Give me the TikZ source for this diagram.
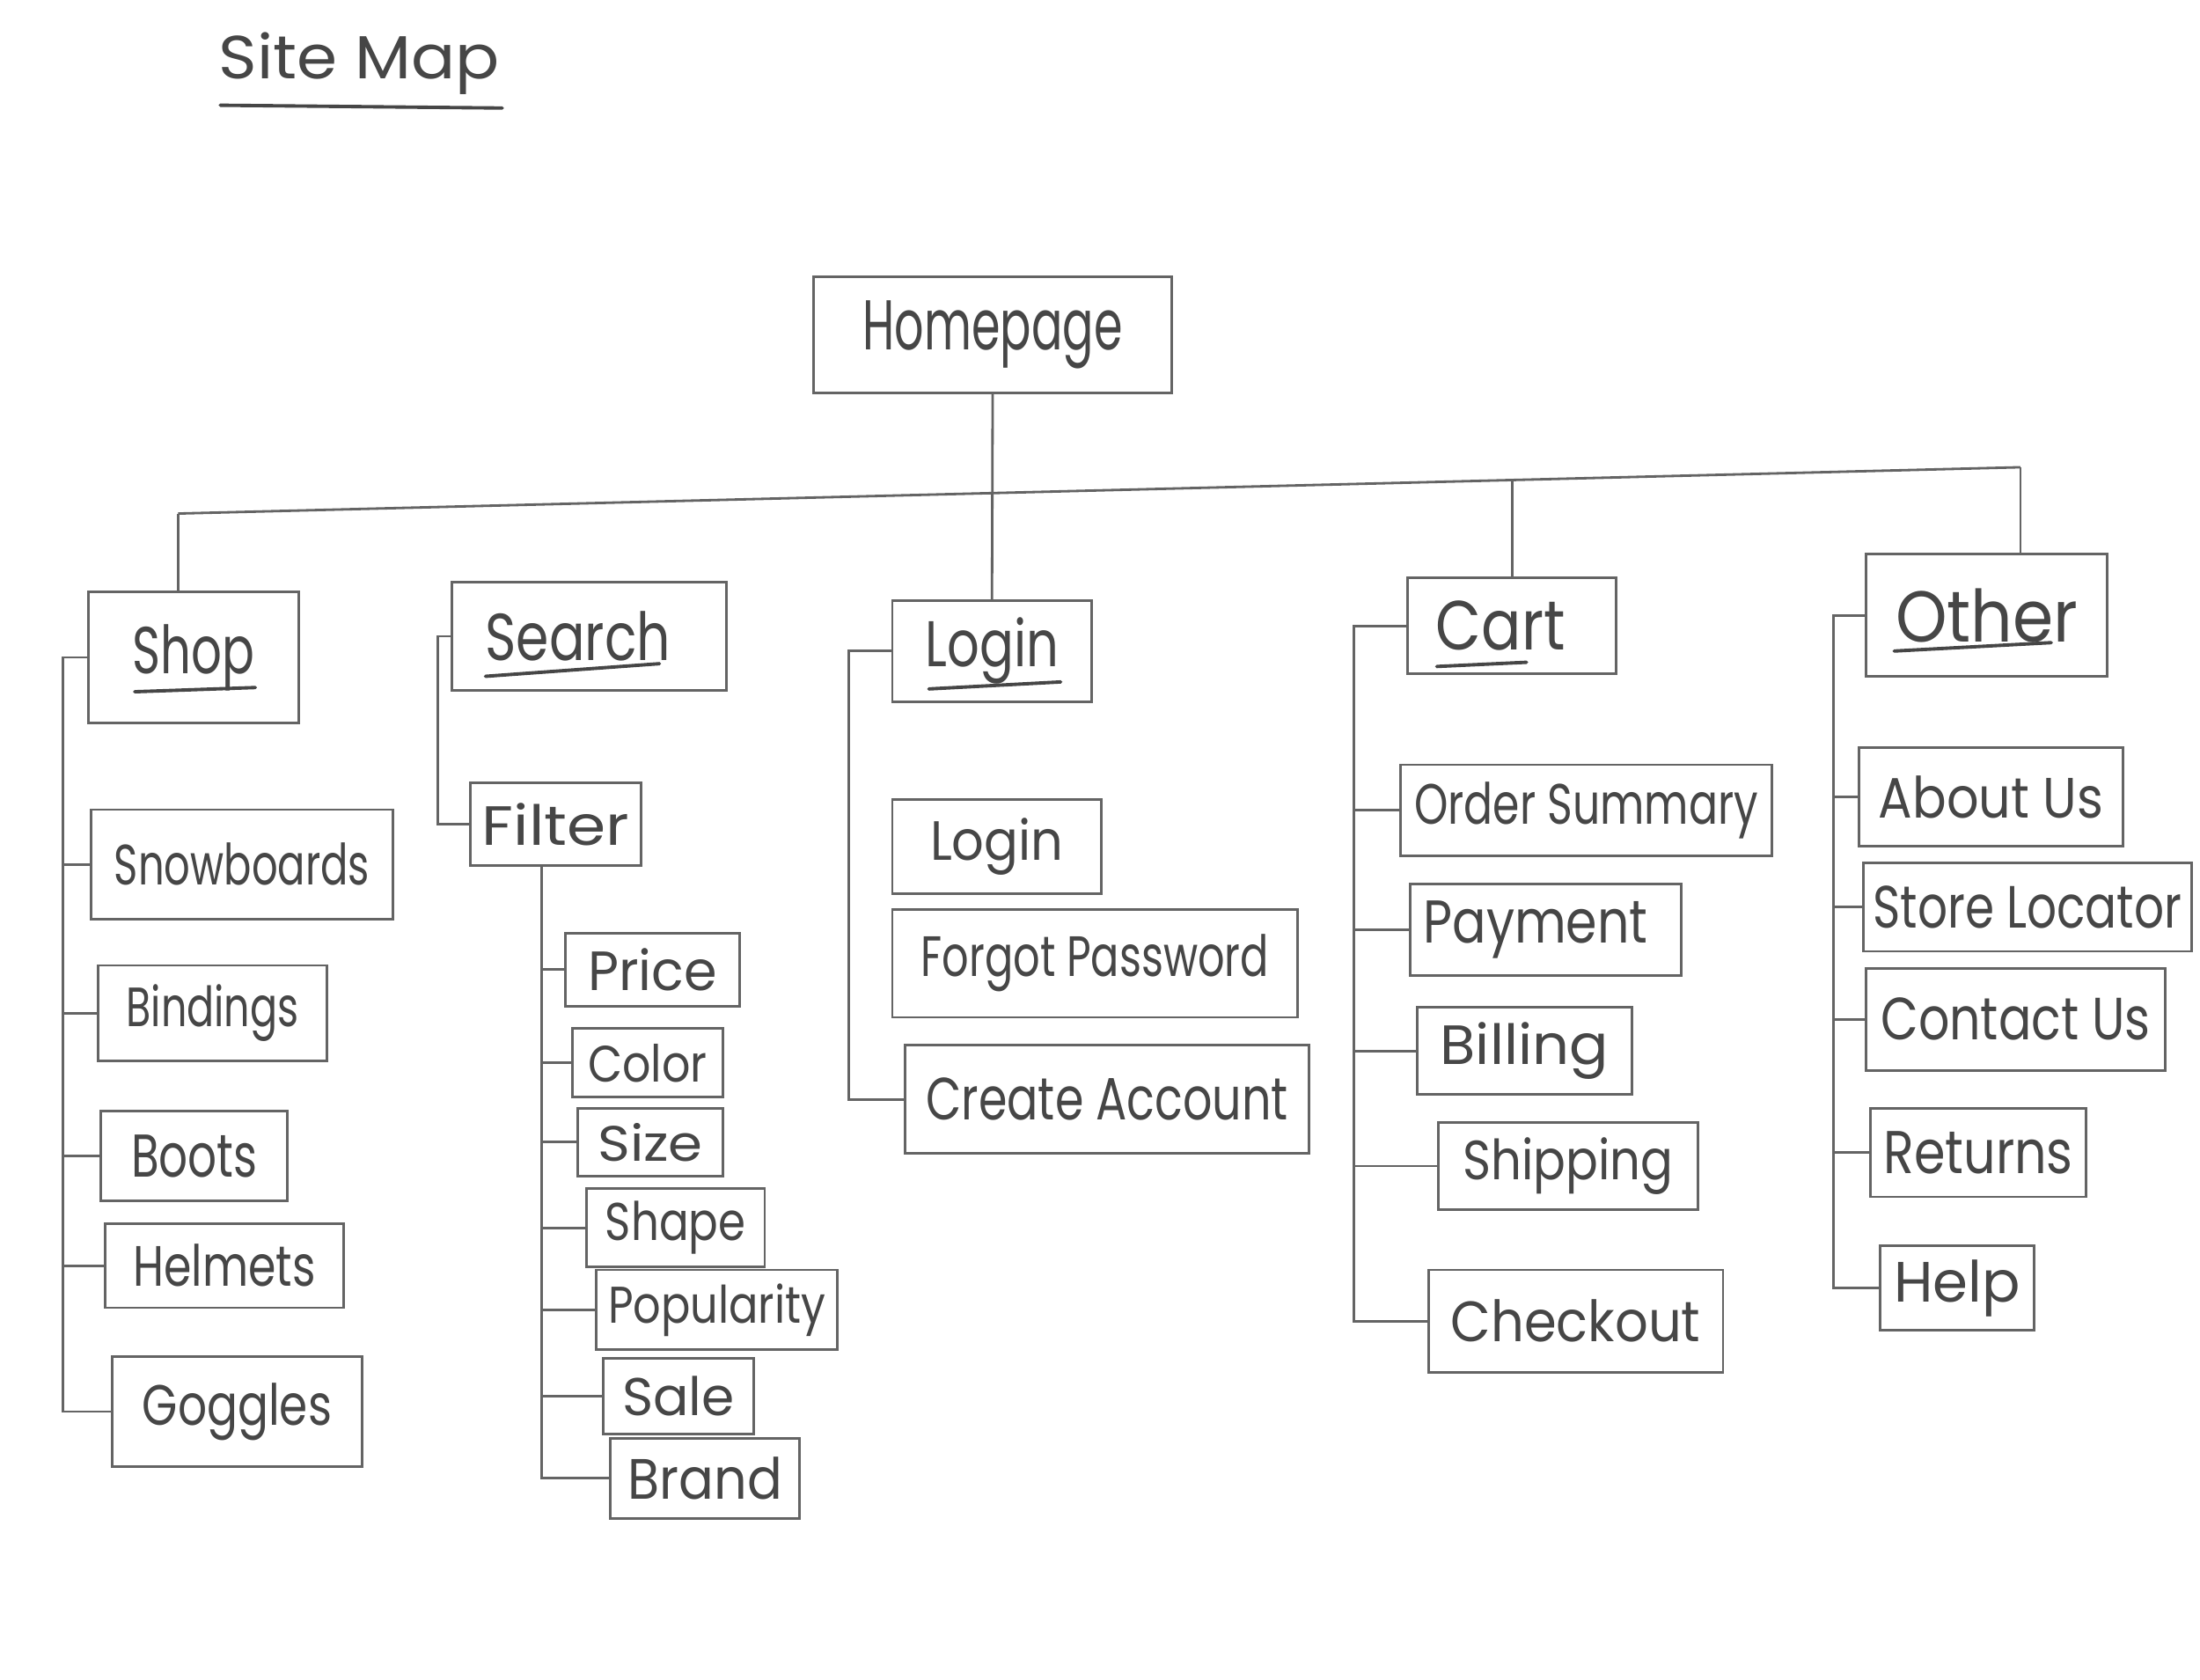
\documentclass[tikz,border=0pt]{standalone}
\usepackage{fontspec}
\setmainfont{Poppins}
\usepackage{graphicx}
\newlength\upx
\setlength\upx{0.015944cm}
% text scaled to the hand-written word's width and letter height
\newcommand\tw[3]{\resizebox{#1\upx}{#2\upx}{#3}}
\newcommand\lf[2]{\tw{#1}{30}{#2}}
\newcommand\hd[2]{\tw{#1}{35}{#2}}
\definecolor{pencil}{RGB}{100,100,100}
\definecolor{ink}{RGB}{70,70,70}
\tikzset{
  bx/.style={draw=pencil, line width=0.8pt, rectangle, inner sep=0pt, text=ink},
  wire/.style={draw=pencil, line width=0.8pt},
  ul/.style={draw=ink, line width=1.1pt, line cap=round}
}
\begin{document}
\begin{tikzpicture}[x=0.015944cm, y=-0.015944cm]
\useasboundingbox[fill=white] (0,0) rectangle (1568,1197);

% title
\node[text=ink, inner sep=0pt] (title) at (256,45) {\tw{200}{33}{Site Map}};
\draw[ul] (157,75) -- (358,77);

% root
\node[bx, minimum width=255\upx, minimum height=83\upx] (home) at (707.5,238.5) {\hd{185}{Homepage}};

% level 1
\node[bx, minimum width=150\upx, minimum height=93\upx] (shop) at (138,468.5) {\hd{87}{Shop}};
\node[bx, minimum width=196\upx, minimum height=77\upx] (search) at (420,453.5) {\hspace*{-16\upx}\hd{132}{Search}};
\node[bx, minimum width=142\upx, minimum height=72\upx] (login) at (707,464) {\hd{95}{Login}};
\node[bx, minimum width=149\upx, minimum height=68\upx] (cart) at (1077.5,446) {\hspace*{-16\upx}\hd{92}{Cart}};
\node[bx, minimum width=172\upx, minimum height=87\upx] (other) at (1416,438.5) {\tw{130}{38}{Other}};

% underlines of section titles
\draw[ul] (96,493) -- (182,490);
\draw[ul] (346,482) -- (470,473);
\draw[ul] (662,491) -- (756,486);
\draw[ul] (1024,475) -- (1088,472);
\draw[ul] (1350,464) -- (1462,458);

% bus
\coordinate (busL) at (127,366);
\coordinate (busR) at (1440,333);
\coordinate (busC) at (1078,342);
\draw[wire] (busL) -- (busR);
\draw[wire] (home.south) -- (login.north);
\draw[wire] (busL) -- (busL |- shop.north);
\draw[wire] (busC) -- (busC |- cart.north);
\draw[wire] (busR) -- (busR |- other.north);

% Shop children
\node[bx, minimum width=215\upx, minimum height=78\upx] (snow) at (172.5,616) {\lf{182}{Snowboards}};
\node[bx, minimum width=163\upx, minimum height=68\upx] (bind) at (151.5,722) {\lf{123}{Bindings}};
\node[bx, minimum width=133\upx, minimum height=64\upx] (boots) at (138.5,824) {\lf{90}{Boots}};
\node[bx, minimum width=170\upx, minimum height=60\upx] (helm) at (160,902) {\lf{130}{Helmets}};
\node[bx, minimum width=178\upx, minimum height=78\upx] (gogg) at (169,1006) {\lf{135}{Goggles}};
\coordinate (shT) at (45,0);
\draw[wire] (shop.west) -| (shT |- gogg.west) -- (gogg.west);
\foreach \n in {snow,bind,boots,helm}{\draw[wire] (\n.west) -- (shT |- \n.west);}

% Search children
\node[bx, minimum width=122\upx, minimum height=59\upx] (filter) at (396,587.5) {\lf{105}{Filter}};
\coordinate (seT) at (312,0);
\draw[wire] (search.west) -| (seT |- filter.west) -- (filter.west);

\node[bx, minimum width=124\upx, minimum height=52\upx] (price) at (465,691) {\lf{92}{Price}};
\node[bx, minimum width=107\upx, minimum height=49\upx] (color) at (461.5,757.5) {\tw{85}{27}{Color}};
\node[bx, minimum width=103\upx, minimum height=48\upx] (size) at (463.5,814) {\tw{75}{27}{Size}};
\node[bx, minimum width=127\upx, minimum height=56\upx] (shape) at (481.5,875) {\tw{100}{28}{Shape}};
\node[bx, minimum width=172\upx, minimum height=57\upx] (popul) at (511,933.5) {\tw{155}{28}{Popularity}};
\node[bx, minimum width=107\upx, minimum height=54\upx] (sale) at (483.5,995) {\tw{80}{28}{Sale}};
\node[bx, minimum width=135\upx, minimum height=57\upx] (brand) at (502.5,1053.5) {\tw{110}{30}{Brand}};
\coordinate (fiT) at (386,0);
\draw[wire] (fiT |- filter.south) -- (fiT |- brand.west) -- (brand.west);
\foreach \n in {price,color,size,shape,popul,sale}{\draw[wire] (\n.west) -- (fiT |- \n.west);}

% Login children
\node[bx, minimum width=149\upx, minimum height=67\upx] (login2) at (710.5,603.5) {\lf{95}{Login}};
\node[bx, minimum width=289\upx, minimum height=77\upx] (forgot) at (780.5,686.5) {\lf{248}{Forgot Password}};
\node[bx, minimum width=288\upx, minimum height=77\upx] (create) at (789,783.5) {\lf{258}{Create Account}};
\coordinate (loT) at (605,0);
\draw[wire] (login.west) -| (loT |- create.west) -- (create.west);

% Cart children
\node[bx, minimum width=265\upx, minimum height=65\upx] (order) at (1130.5,577.5) {\lf{245}{Order Summary}};
\node[bx, minimum width=193\upx, minimum height=65\upx] (pay) at (1101.5,662.5) {\hspace*{-14\upx}\lf{160}{Payment}};
\node[bx, minimum width=153\upx, minimum height=62\upx] (bill) at (1086.5,749) {\lf{120}{Billing}};
\node[bx, minimum width=185\upx, minimum height=62\upx] (ship) at (1117.5,831) {\lf{150}{Shipping}};
\node[bx, minimum width=210\upx, minimum height=73\upx] (check) at (1123,941.5) {\lf{178}{Checkout}};
\coordinate (caT) at (965,0);
\draw[wire] (cart.west) -| (caT |- check.west) -- (check.west);
\foreach \n in {order,pay,bill,ship}{\draw[wire] (\n.west) -- (caT |- \n.west);}

% Other children
\node[bx, minimum width=188\upx, minimum height=70\upx] (about) at (1419,568) {\lf{160}{About Us}};
\node[bx, minimum width=234\upx, minimum height=63\upx] (store) at (1445,646.5) {\lf{220}{Store Locator}};
\node[bx, minimum width=213\upx, minimum height=73\upx] (contact) at (1436.5,726.5) {\lf{192}{Contact Us}};
\node[bx, minimum width=154\upx, minimum height=63\upx] (returns) at (1410,821.5) {\lf{135}{Returns}};
\node[bx, minimum width=110\upx, minimum height=60\upx] (help) at (1395,918) {\lf{90}{Help}};
\coordinate (otT) at (1307,0);
\draw[wire] (other.west) -| (otT |- help.west) -- (help.west);
\foreach \n in {about,store,contact,returns}{\draw[wire] (\n.west) -- (otT |- \n.west);}
\end{tikzpicture}
\end{document}
